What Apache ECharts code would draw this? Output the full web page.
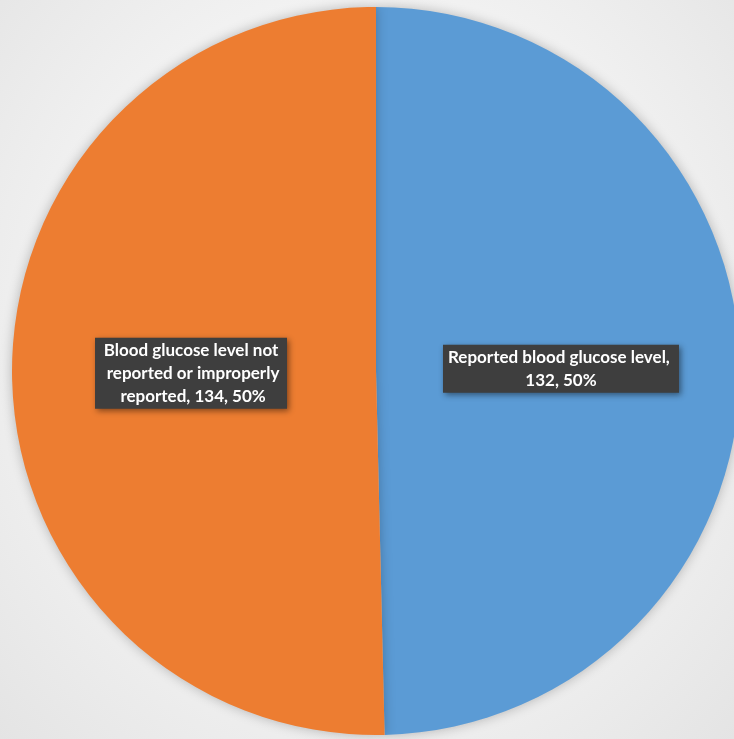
<!DOCTYPE html>
<html>
<head>
<meta charset="utf-8">
<script src="https://cdn.jsdelivr.net/npm/echarts@6/dist/echarts.min.js"></script>
<style>
html,body{margin:0;padding:0;}
#chart{width:734px;height:739px;background:radial-gradient(ellipse at 50% 45%, #ffffff 0%, #f6f6f6 45%, #e4e4e4 100%);}
</style>
</head>
<body>
<div id="chart"></div>
<script>
const categories = ["Reported blood glucose level", "Blood glucose level not reported or improperly reported"];
const values = [132, 134];
const colors = ["#5B9BD5", "#ED7D31"];
const labelWidths = [228, 178];
const labelPads = [[1, 4], [1, 7]];

const chart = echarts.init(document.getElementById('chart'), null, {renderer: 'canvas'});
chart.setOption({
  backgroundColor: 'transparent',
  animation: false,
  series: [{
    type: 'pie',
    center: [376, 371],
    radius: [0, 364],
    startAngle: 90,
    clockwise: true,
    percentPrecision: 0,
    avoidLabelOverlap: false,
    data: categories.map((c, i) => ({
      name: c, value: values[i],
      itemStyle: {color: colors[i]},
      label: {width: labelWidths[i], padding: labelPads[i]}
    })),
    itemStyle: {shadowBlur: 12, shadowColor: 'rgba(0,0,0,0.25)'},
    label: {
      show: true,
      position: 'inside',
      formatter: p => p.name + ', ' + p.value + ', ' + p.percent + '%',
      overflow: 'break',
      color: '#ffffff',
      fontFamily: 'Lato, "Open Sans", sans-serif',
      fontWeight: 'bold',
      fontSize: 17,
      lineHeight: 23,
      align: 'center',
      backgroundColor: '#3e3e3e',
      shadowBlur: 6,
      shadowOffsetX: 2,
      shadowOffsetY: 2,
      shadowColor: 'rgba(0,0,0,0.45)'
    },
    labelLine: {show: false},
    emphasis: {disabled: true}
  }]
});
</script>
</body>
</html>
